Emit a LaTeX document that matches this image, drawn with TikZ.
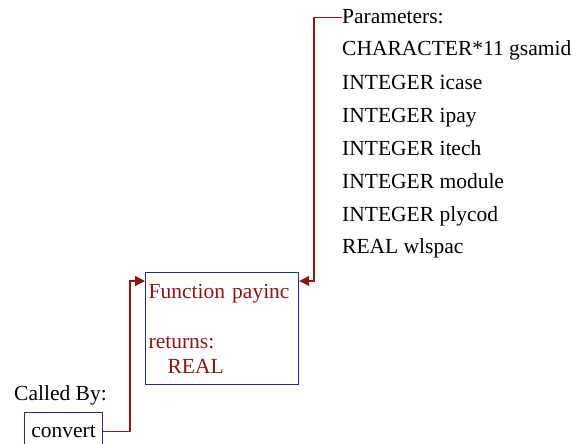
\documentclass[tikz,border=0pt]{standalone}
\usepackage{fontspec}
\setmainfont{Liberation Serif}
\usetikzlibrary{arrows.meta}
\definecolor{fnred}{RGB}{140,20,20}
\definecolor{fnblue}{RGB}{40,40,150}

\begin{document}
\begin{tikzpicture}[x=1pt,y=-1pt,
                    every node/.style={inner sep=0pt,font=\fontsize{21.5}{25}\selectfont},
                    fnbox/.style={draw=fnblue,line width=1.2pt,text=fnred,align=left,anchor=north west},
                    lbl/.style={anchor=base west,text=black},
                    conn/.style={draw=fnred,line width=1.2pt,-{Triangle[length=10pt,width=10pt]}}]
  \useasboundingbox (0,0) rectangle (578,444);
  \node[fnbox,minimum width=153,minimum height=112,text width=147,inner xsep=3pt] (payinc) at (145,272)
       {Function payinc\\ \mbox{}\\ returns:\\ \hspace*{19pt}REAL};
  \node[fnbox,text=black,minimum width=78,minimum height=38,inner xsep=4pt] (convert) at (24,412) {convert};
  \node[lbl] (calledby) at (14,400) {Called By:};
  \node[lbl] (paramhead) at (342,24) {Parameters:};
  \node[lbl] (p1) at (342,56)  {CHARACTER*11 gsamid};
  \node[lbl] (p2) at (342,89)  {INTEGER icase};
  \node[lbl] (p3) at (342,122) {INTEGER ipay};
  \node[lbl] (p4) at (342,155) {INTEGER itech};
  \node[lbl] (p5) at (342,188) {INTEGER module};
  \node[lbl] (p6) at (342,221) {INTEGER plycod};
  \node[lbl] (p7) at (342,253) {REAL wlspac};
  \coordinate (pbend) at (314,281);
  \coordinate (cbend) at (130,281);
  \draw[conn] (paramhead.west) -| (pbend) -- (payinc.east |- pbend);
  \draw[conn] (convert.east) -| (cbend) -- (payinc.west |- cbend);
\end{tikzpicture}
\end{document}
